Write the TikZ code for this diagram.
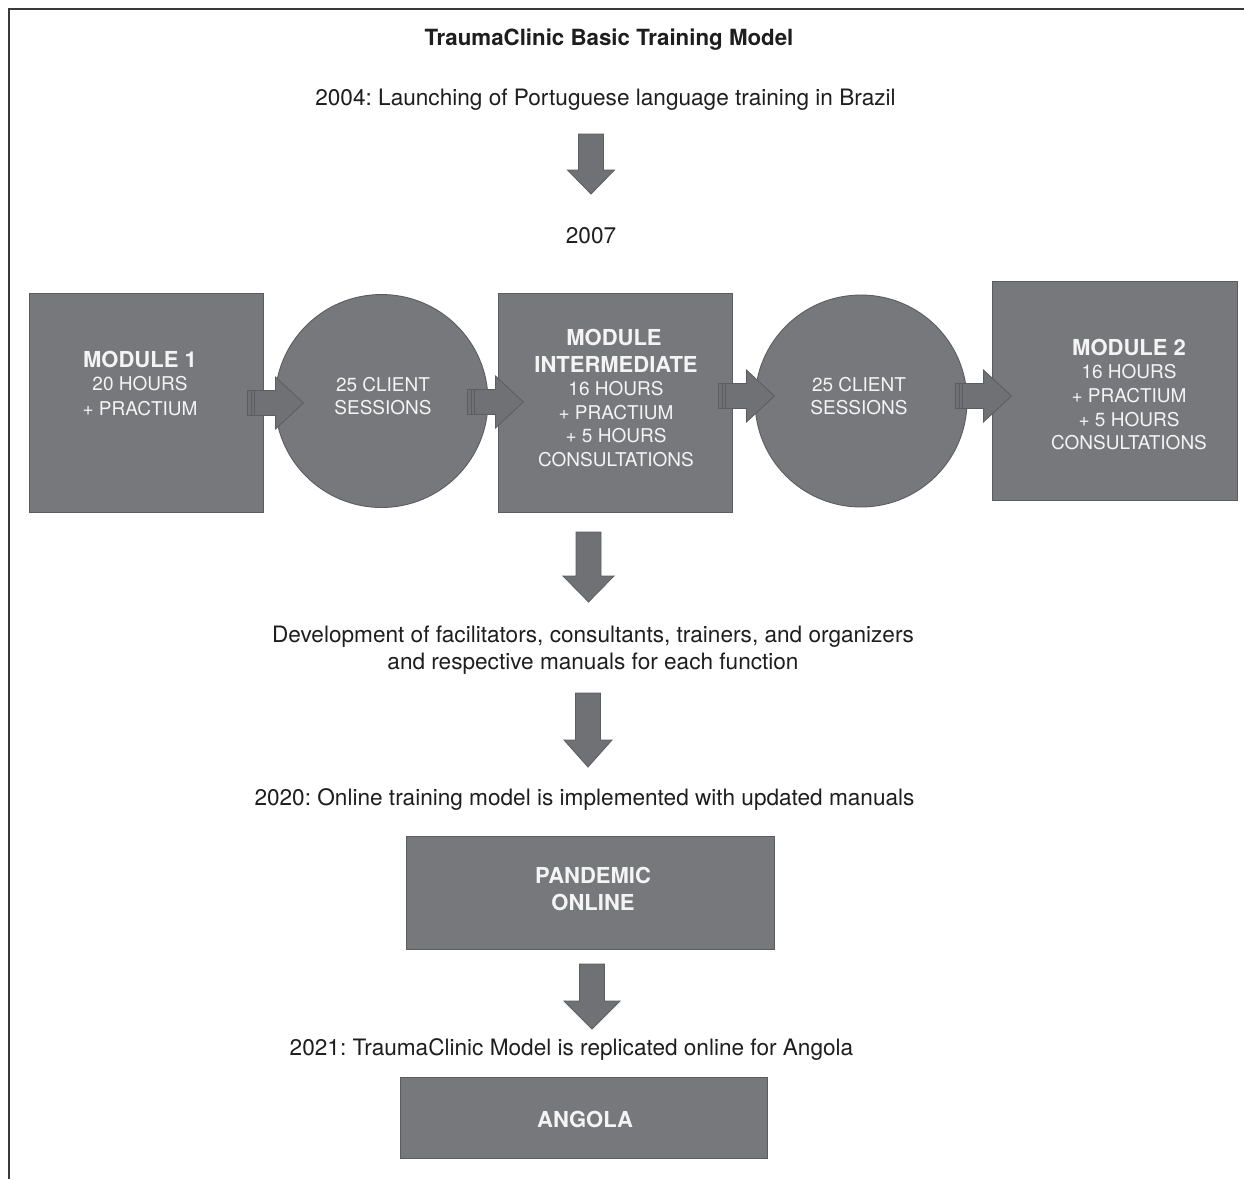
\documentclass[tikz,border=0pt]{standalone}
\usepackage{fontspec}
\setmainfont{TeX Gyre Heros}
\usetikzlibrary{calc}
\definecolor{boxgray}{HTML}{77787C}
\definecolor{edgegray}{HTML}{5C5D61}
\definecolor{arrowgray}{HTML}{707175}
\definecolor{ink}{HTML}{1E1E1E}
\definecolor{frameink}{HTML}{3A3A3A}
\definecolor{boxtext}{HTML}{F4F4F4}
\newcommand\myvarrow[5]{%
  \draw[blockarr] (#1-12.5,#2) -- (#1+12.5,#2) -- (#1+12.5,#3) -- (#1+#5,#3)
    -- (#1,#4) -- (#1-#5,#3) -- (#1-12.5,#3) -- cycle;}
\frenchspacing
\begin{document}
\frenchspacing
\begin{tikzpicture}[x=1pt,y=-1pt,
  blockarr/.style={fill=arrowgray, draw=edgegray, line width=0.8pt, line join=miter},
  rectbox/.style={rectangle, draw=edgegray, line width=0.9pt, fill=boxgray, inner sep=0},
  roundbox/.style={circle, draw=edgegray, line width=0.9pt, fill=boxgray, inner sep=0},
  bodytext/.style={font=\fontsize{22.6}{26}\selectfont, text=ink, anchor=base, inner sep=0},
  titletext/.style={font=\bfseries\fontsize{22.3}{26}\selectfont, text=ink, anchor=base, inner sep=0},
  inbold/.style={font=\bfseries\fontsize{22}{26}\selectfont, text=boxtext, anchor=base, inner sep=0},
  inreg/.style={font=\fontsize{19}{23}\selectfont, text=boxtext, anchor=base, inner sep=0},
  harrow/.pic={
    \draw[blockarr] (0,-12.5) -- (28,-12.5) -- (28,-26) -- (56,0) -- (28,26) -- (28,12.5) -- (0,12.5) -- cycle;
    \draw[edgegray, line width=0.6pt] (4,-12.5) -- (4,12.5);
    \draw[edgegray, line width=0.6pt] (7,-12.5) -- (7,12.5);
  }]
\useasboundingbox[fill=white] (0,0) rectangle (1244,1179);
% frame
\draw[frameink, line width=1.6pt] (9,1179) -- (9,9) -- (1244,9);

% texts at the top
\node[titletext] (title) at (609,45) {TraumaClinic Basic Training Model};
\node[bodytext] (t2004) at (605.5,105) {2004: Launching of Portuguese language training in Brazil};
\node[bodytext] (t2007) at (591,243) {2007};

% boxes and circles
\node[rectbox, minimum width=234pt, minimum height=219pt] (m1) at (146,402.5) {};
\node[roundbox, minimum size=213pt] (c1) at (381.5,401) {};
\node[rectbox, minimum width=234pt, minimum height=219pt] (mi) at (615,402.5) {};
\node[roundbox, minimum size=212pt] (c2) at (861,401) {};
\node[rectbox, minimum width=245pt, minimum height=219pt] (m2) at (1114.5,390.5) {};

% horizontal block arrows
\pic at ($(m1.east)+(-16,0.5)$) {harrow};
\pic at ($(c1.east)+(-21,1)$) {harrow};
\pic at ($(mi.east)+(-14,-6.5)$) {harrow};
\pic at ($(c2.east)+(-12,-5)$) {harrow};

% texts inside
\node[inbold] (m1a) at (140,367) {MODULE 1};
\node[inreg] (m1b) at (140,390) {20 HOURS};
\node[inreg] (m1c) at (140,415) {+ PRACTIUM};

\node[inreg] (c1a) at (383,391) {25 CLIENT};
\node[inreg] (c1b) at (383,414) {SESSIONS};

\node[inbold] (mia) at (614,345) {MODULE};
\node[inbold] (mib) at (616,372) {INTERMEDIATE};
\node[inreg] (mic) at (616,395) {16 HOURS};
\node[inreg] (mid) at (616,419) {+ PRACTIUM};
\node[inreg] (mie) at (616,442) {+ 5 HOURS};
\node[inreg] (mif) at (616,466) {CONSULTATIONS};

\node[inreg] (c2a) at (859,391) {25 CLIENT};
\node[inreg] (c2b) at (859,414) {SESSIONS};

\node[inbold] (m2a) at (1129,355) {MODULE 2};
\node[inreg] (m2b) at (1129,378) {16 HOURS};
\node[inreg] (m2c) at (1129,402) {+ PRACTIUM};
\node[inreg] (m2d) at (1129,426) {+ 5 HOURS};
\node[inreg] (m2e) at (1129,449) {CONSULTATIONS};

% lower part
\node[bodytext] (dev1) at (593,642) {Development of facilitators, consultants, trainers, and organizers};
\node[bodytext] (dev2) at (593,669) {and respective manuals for each function};
\node[bodytext] (t2020) at (584.5,805) {2020: Online training model is implemented with updated manuals};

\node[rectbox, minimum width=368pt, minimum height=113pt] (pand) at (590,892.5) {};
\node[inbold] (panda) at (593,883) {PANDEMIC};
\node[inbold] (pandb) at (593,910) {ONLINE};

\node[bodytext] (t2021) at (571.5,1055) {2021: TraumaClinic Model is replicated online for Angola};

\node[rectbox, minimum width=367pt, minimum height=81pt] (ang) at (583.5,1117.5) {};
\node[inbold] (anga) at (585,1127) {ANGOLA};

% vertical block arrows
\myvarrow{591}{134}{170}{194}{23.5}
\myvarrow{588.5}{532}{576}{602}{25.5}
\myvarrow{588}{693}{740}{767}{24}
\myvarrow{592}{964}{1001}{1029}{28}
\end{tikzpicture}
\end{document}
